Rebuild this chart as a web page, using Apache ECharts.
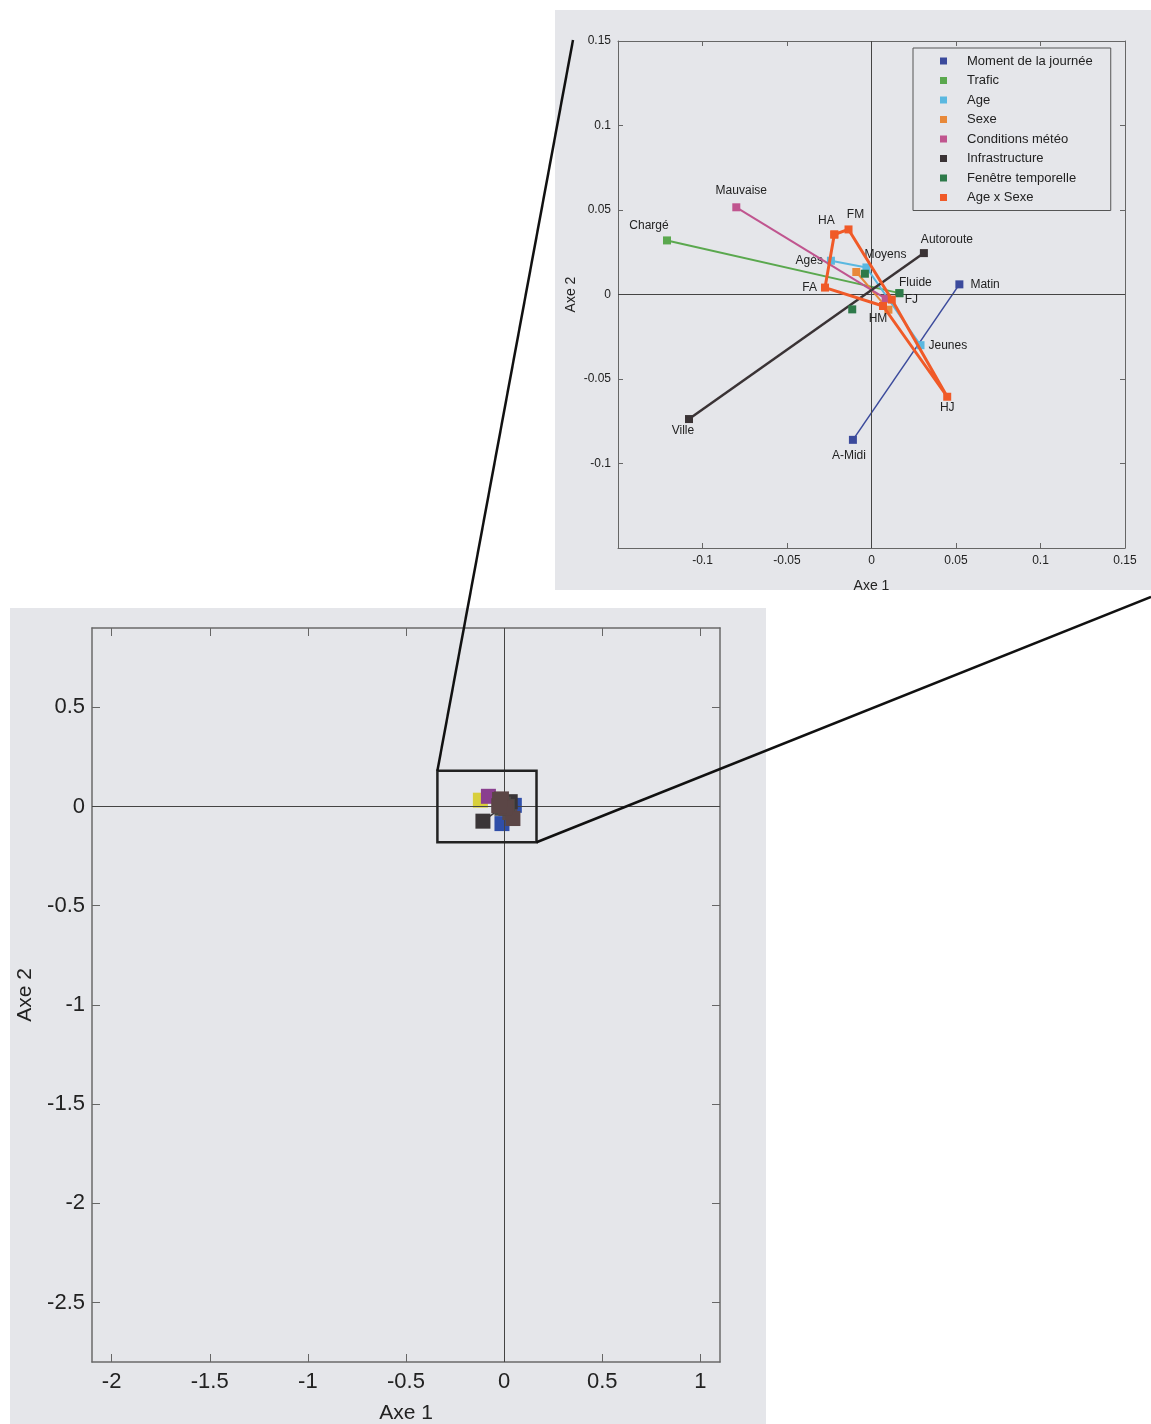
<!DOCTYPE html>
<html><head><meta charset="utf-8">
<script src="https://cdn.jsdelivr.net/npm/echarts@6/dist/echarts.min.js"></script>
<style>html,body{margin:0;padding:0;background:#fff;}#c{width:1151px;height:1424px;}</style>
</head><body><div id="c"></div>
<script>
// ---------- data ----------
const seriesNames = ['Moment de la journée','Trafic','Age','Sexe','Conditions météo','Infrastructure','Fenêtre temporelle','Age x Sexe'];

const momentLabels = ['Matin','A-Midi'];
const momentX = [0.052, -0.011];
const momentY = [0.006, -0.086];

const traficLabels = ['Chargé','Fluide'];
const traficX = [-0.121, 0.0165];
const traficY = [0.032, 0.0008];

const ageLabels = ['Agés','Moyens','Jeunes'];
const ageX = [-0.024, -0.003, 0.029];
const ageY = [0.020, 0.016, -0.030];

const sexeLabels = ['',''];
const sexeX = [-0.009, 0.010];
const sexeY = [0.0133, -0.009];

const meteoLabels = ['Mauvaise',''];
const meteoX = [-0.080, 0.0084];
const meteoY = [0.0516, -0.0025];

const infraLabels = ['Ville','Autoroute'];
const infraX = [-0.108, 0.031];
const infraY = [-0.0737, 0.0245];

const fenetreLabels = ['','',''];
const fenetreX = [-0.0039, -0.0114, 0.0165];
const fenetreY = [0.0123, -0.0088, 0.0008];

const axsLabels = ['HA','FM','FJ','HJ','HM','FA'];
const axsX = [-0.022, -0.0136, 0.012, 0.0448, 0.0068, -0.0275];
const axsY = [0.0355, 0.0385, -0.003, -0.0605, -0.0068, 0.0041];

const mainXTicks = [-2, -1.5, -1, -0.5, 0, 0.5, 1];
const mainYTicks = [-2.5, -2, -1.5, -1, -0.5, 0, 0.5];
const zoomBox = [[-0.34, 0.18], [0.165, -0.18]];

// ---------- styles ----------
const insetColors = ['#3b4a9c','#5aa84e','#5ab8e0','#e8893a','#c0558f','#3a3335','#2e7a4a','#f05a28'];
const mainColors  = ['#2f4ea8','#d8cf3c','#5a4a4a','#5b4848','#8a3f8f','#3a3538','#4d4a44','#5b4646'];
const lineWidths  = [1.5, 2, 2, 2, 2, 2.5, 0, 3];
const labelPlace = {
  'Matin':['right',7,0,0], 'A-Midi':['bottom',6,-4,0], 'Chargé':['top',5,-18,0],
  'Mauvaise':['top',7,5,0], 'HA':['top',4,-8,0], 'FM':['top',5,7,0],
  'Autoroute':['top',3,23,0], 'Agés':['left',4,0,0], 'Moyens':['top',3,19,0],
  'FA':['left',4,0,0], 'Fluide':['top',0,16,0], 'FJ':['right',9,0,0],
  'HM':['bottom',3,-5,0], 'Jeunes':['right',4,0,0], 'HJ':['bottom',1,0,0],
  'Ville':['bottom',2,-6,0]
};
const FONT = 'Liberation Sans, Arial, sans-serif';

const groups = [
  [momentLabels, momentX, momentY],
  [traficLabels, traficX, traficY],
  [ageLabels, ageX, ageY],
  [sexeLabels, sexeX, sexeY],
  [meteoLabels, meteoX, meteoY],
  [infraLabels, infraX, infraY],
  [fenetreLabels, fenetreX, fenetreY],
  [axsLabels, axsX, axsY]
];

function buildData(g, closed, withLabels){
  const [labs, xs, ys] = g;
  const d = xs.map((x,i)=>{
    const item = {value:[x, ys[i]], name: labs[i]};
    if (withLabels && labs[i] && labelPlace[labs[i]]) {
      const p = labelPlace[labs[i]];
      item.label = {show:true, formatter: labs[i], position:p[0], distance:p[1], offset:[p[2],p[3]]};
    }
    return item;
  });
  if (closed) d.push({value:[xs[0], ys[0]], name:'', label:{show:false}});
  return d;
}

const series = [];
// zero cross lines (drawn first, underneath)
series.push({type:'line', xAxisIndex:0, yAxisIndex:0, data:[], silent:true,
  markLine:{symbol:'none', silent:true, animation:false, label:{show:false},
    lineStyle:{color:'#444', width:1, type:'solid'}, data:[{xAxis:0},{yAxis:0}]}, z:1});
series.push({type:'line', xAxisIndex:2, yAxisIndex:2, data:[], silent:true,
  markLine:{symbol:'none', silent:true, animation:false, label:{show:false},
    lineStyle:{color:'#444', width:1, type:'solid'}, data:[{xAxis:0},{yAxis:0}]}, z:1});
// main chart series
groups.forEach((g,i)=>{
  series.push({
    name: 'main-' + i, type:'line', xAxisIndex:0, yAxisIndex:0,
    data: buildData(g, i===7, false),
    symbol:'rect', symbolSize:15, showAllSymbol:true,
    itemStyle:{color: mainColors[i]},
    lineStyle:{color: i===7 ? '#e8602a' : mainColors[i], width: lineWidths[i] ? 1.5 : 0},
    z: 3 + i, silent:true, animation:false
  });
});
// inset series
groups.forEach((g,i)=>{
  series.push({
    name: seriesNames[i], type:'line', xAxisIndex:2, yAxisIndex:2,
    data: buildData(g, i===7, true),
    symbol:'rect', symbolSize:8, showAllSymbol:true,
    itemStyle:{color: insetColors[i]},
    lineStyle:{color: insetColors[i], width: lineWidths[i], opacity: lineWidths[i] ? 1 : 0},
    label:{show:false, color:'#222', fontSize:12, fontFamily:FONT},
    z: 3 + i, animation:false
  });
});

function insetFmt(v){ if (Math.abs(v + 0.15) < 1e-9) return ''; return String(+v.toFixed(2)); }

const mainAxisLine = {show:true, onZero:false, lineStyle:{color:'#6a6a6a', width:1.5}};
const insetAxisLine = {show:true, onZero:false, lineStyle:{color:'#666', width:1}};

const option = {
  backgroundColor:'#ffffff',
  animation:false,
  grid:[
    {left:92, top:628, width:628, height:734, show:false, containLabel:false, outerBoundsMode:'none'},
    {left:618, top:41, width:507, height:507, show:false, containLabel:false, outerBoundsMode:'none'}
  ],
  xAxis:[
    {gridIndex:0, type:'value', position:'bottom', min:-2.1, max:1.1,
     axisLine:mainAxisLine, splitLine:{show:false},
     axisTick:{show:true, inside:true, length:8, customValues:mainXTicks, lineStyle:{color:'#666'}},
     axisLabel:{customValues:mainXTicks, fontSize:22, color:'#222', fontFamily:FONT, margin:9},
     name:'Axe 1', nameLocation:'middle', nameGap:41, nameTextStyle:{fontSize:21, color:'#222', fontFamily:FONT}},
    {gridIndex:0, type:'value', position:'top', min:-2.1, max:1.1,
     axisLine:mainAxisLine, splitLine:{show:false},
     axisTick:{show:true, inside:true, length:8, customValues:mainXTicks, lineStyle:{color:'#666'}},
     axisLabel:{show:false}},
    {gridIndex:1, type:'value', position:'bottom', min:-0.15, max:0.15, interval:0.05,
     axisLine:insetAxisLine, splitLine:{show:false},
     axisTick:{show:true, inside:true, length:5, lineStyle:{color:'#666'}},
     axisLabel:{formatter:insetFmt, fontSize:12, color:'#222', fontFamily:FONT, margin:7, showMinLabel:true, showMaxLabel:true},
     name:'Axe 1', nameLocation:'middle', nameGap:31, nameTextStyle:{fontSize:14, color:'#222', fontFamily:FONT}},
    {gridIndex:1, type:'value', position:'top', min:-0.15, max:0.15, interval:0.05,
     axisLine:insetAxisLine, splitLine:{show:false},
     axisTick:{show:true, inside:true, length:5, lineStyle:{color:'#666'}},
     axisLabel:{show:false}}
  ],
  yAxis:[
    {gridIndex:0, type:'value', position:'left', min:-2.8, max:0.9,
     axisLine:mainAxisLine, splitLine:{show:false},
     axisTick:{show:true, inside:true, length:8, customValues:mainYTicks, lineStyle:{color:'#666'}},
     axisLabel:{customValues:mainYTicks, fontSize:22, color:'#222', fontFamily:FONT, margin:7},
     name:'Axe 2', nameLocation:'middle', nameGap:56, nameRotate:90, nameTextStyle:{fontSize:21, color:'#222', fontFamily:FONT}},
    {gridIndex:0, type:'value', position:'right', min:-2.8, max:0.9,
     axisLine:mainAxisLine, splitLine:{show:false},
     axisTick:{show:true, inside:true, length:8, customValues:mainYTicks, lineStyle:{color:'#666'}},
     axisLabel:{show:false}},
    {gridIndex:1, type:'value', position:'left', min:-0.15, max:0.15, interval:0.05,
     axisLine:insetAxisLine, splitLine:{show:false},
     axisTick:{show:true, inside:true, length:5, lineStyle:{color:'#666'}},
     axisLabel:{formatter:insetFmt, fontSize:12, color:'#222', fontFamily:FONT, margin:7, showMinLabel:true, showMaxLabel:true},
     name:'Axe 2', nameLocation:'middle', nameGap:40, nameRotate:90, nameTextStyle:{fontSize:14, color:'#222', fontFamily:FONT}},
    {gridIndex:1, type:'value', position:'right', min:-0.15, max:0.15, interval:0.05,
     axisLine:insetAxisLine, splitLine:{show:false},
     axisTick:{show:true, inside:true, length:5, lineStyle:{color:'#666'}},
     axisLabel:{show:false}}
  ],
  legend:{
    data: seriesNames, orient:'vertical', left:913, top:48,
    icon:'rect', itemWidth:7, itemHeight:7, itemGap:5.5,
    padding:[6, 18, 6, 27], borderColor:'#555', borderWidth:1,
    textStyle:{fontSize:13, color:'#222', fontFamily:FONT, lineHeight:14, padding:[0,0,0,15]},
    selectedMode:false
  },
  graphic:[
    {type:'rect', id:'bgInset', z:-10, silent:true, shape:{x:555, y:10, width:596, height:580}, style:{fill:'#e5e6ea'}},
    {type:'rect', id:'bgMain', z:-10, silent:true, shape:{x:10, y:608, width:756, height:816}, style:{fill:'#e5e6ea'}}
  ],
  series: series
};

const chart = echarts.init(document.getElementById('c'), null, {renderer:'canvas'});
chart.setOption(option);

const p1 = chart.convertToPixel({gridIndex:0}, zoomBox[0]);
const p2 = chart.convertToPixel({gridIndex:0}, zoomBox[1]);
chart.setOption({graphic:[
  {type:'rect', id:'zoomRect', z:100, silent:true,
   shape:{x:p1[0], y:p1[1], width:p2[0]-p1[0], height:p2[1]-p1[1]},
   style:{fill:'none', stroke:'#222', lineWidth:2.5}},
  {type:'line', id:'conn1', z:100, silent:true, shape:{x1:p1[0], y1:p1[1], x2:573, y2:40}, style:{stroke:'#111', lineWidth:2.5}},
  {type:'line', id:'conn2', z:100, silent:true, shape:{x1:p2[0], y1:p2[1], x2:1151, y2:597}, style:{stroke:'#111', lineWidth:2.5}}
]});
</script></body></html>
